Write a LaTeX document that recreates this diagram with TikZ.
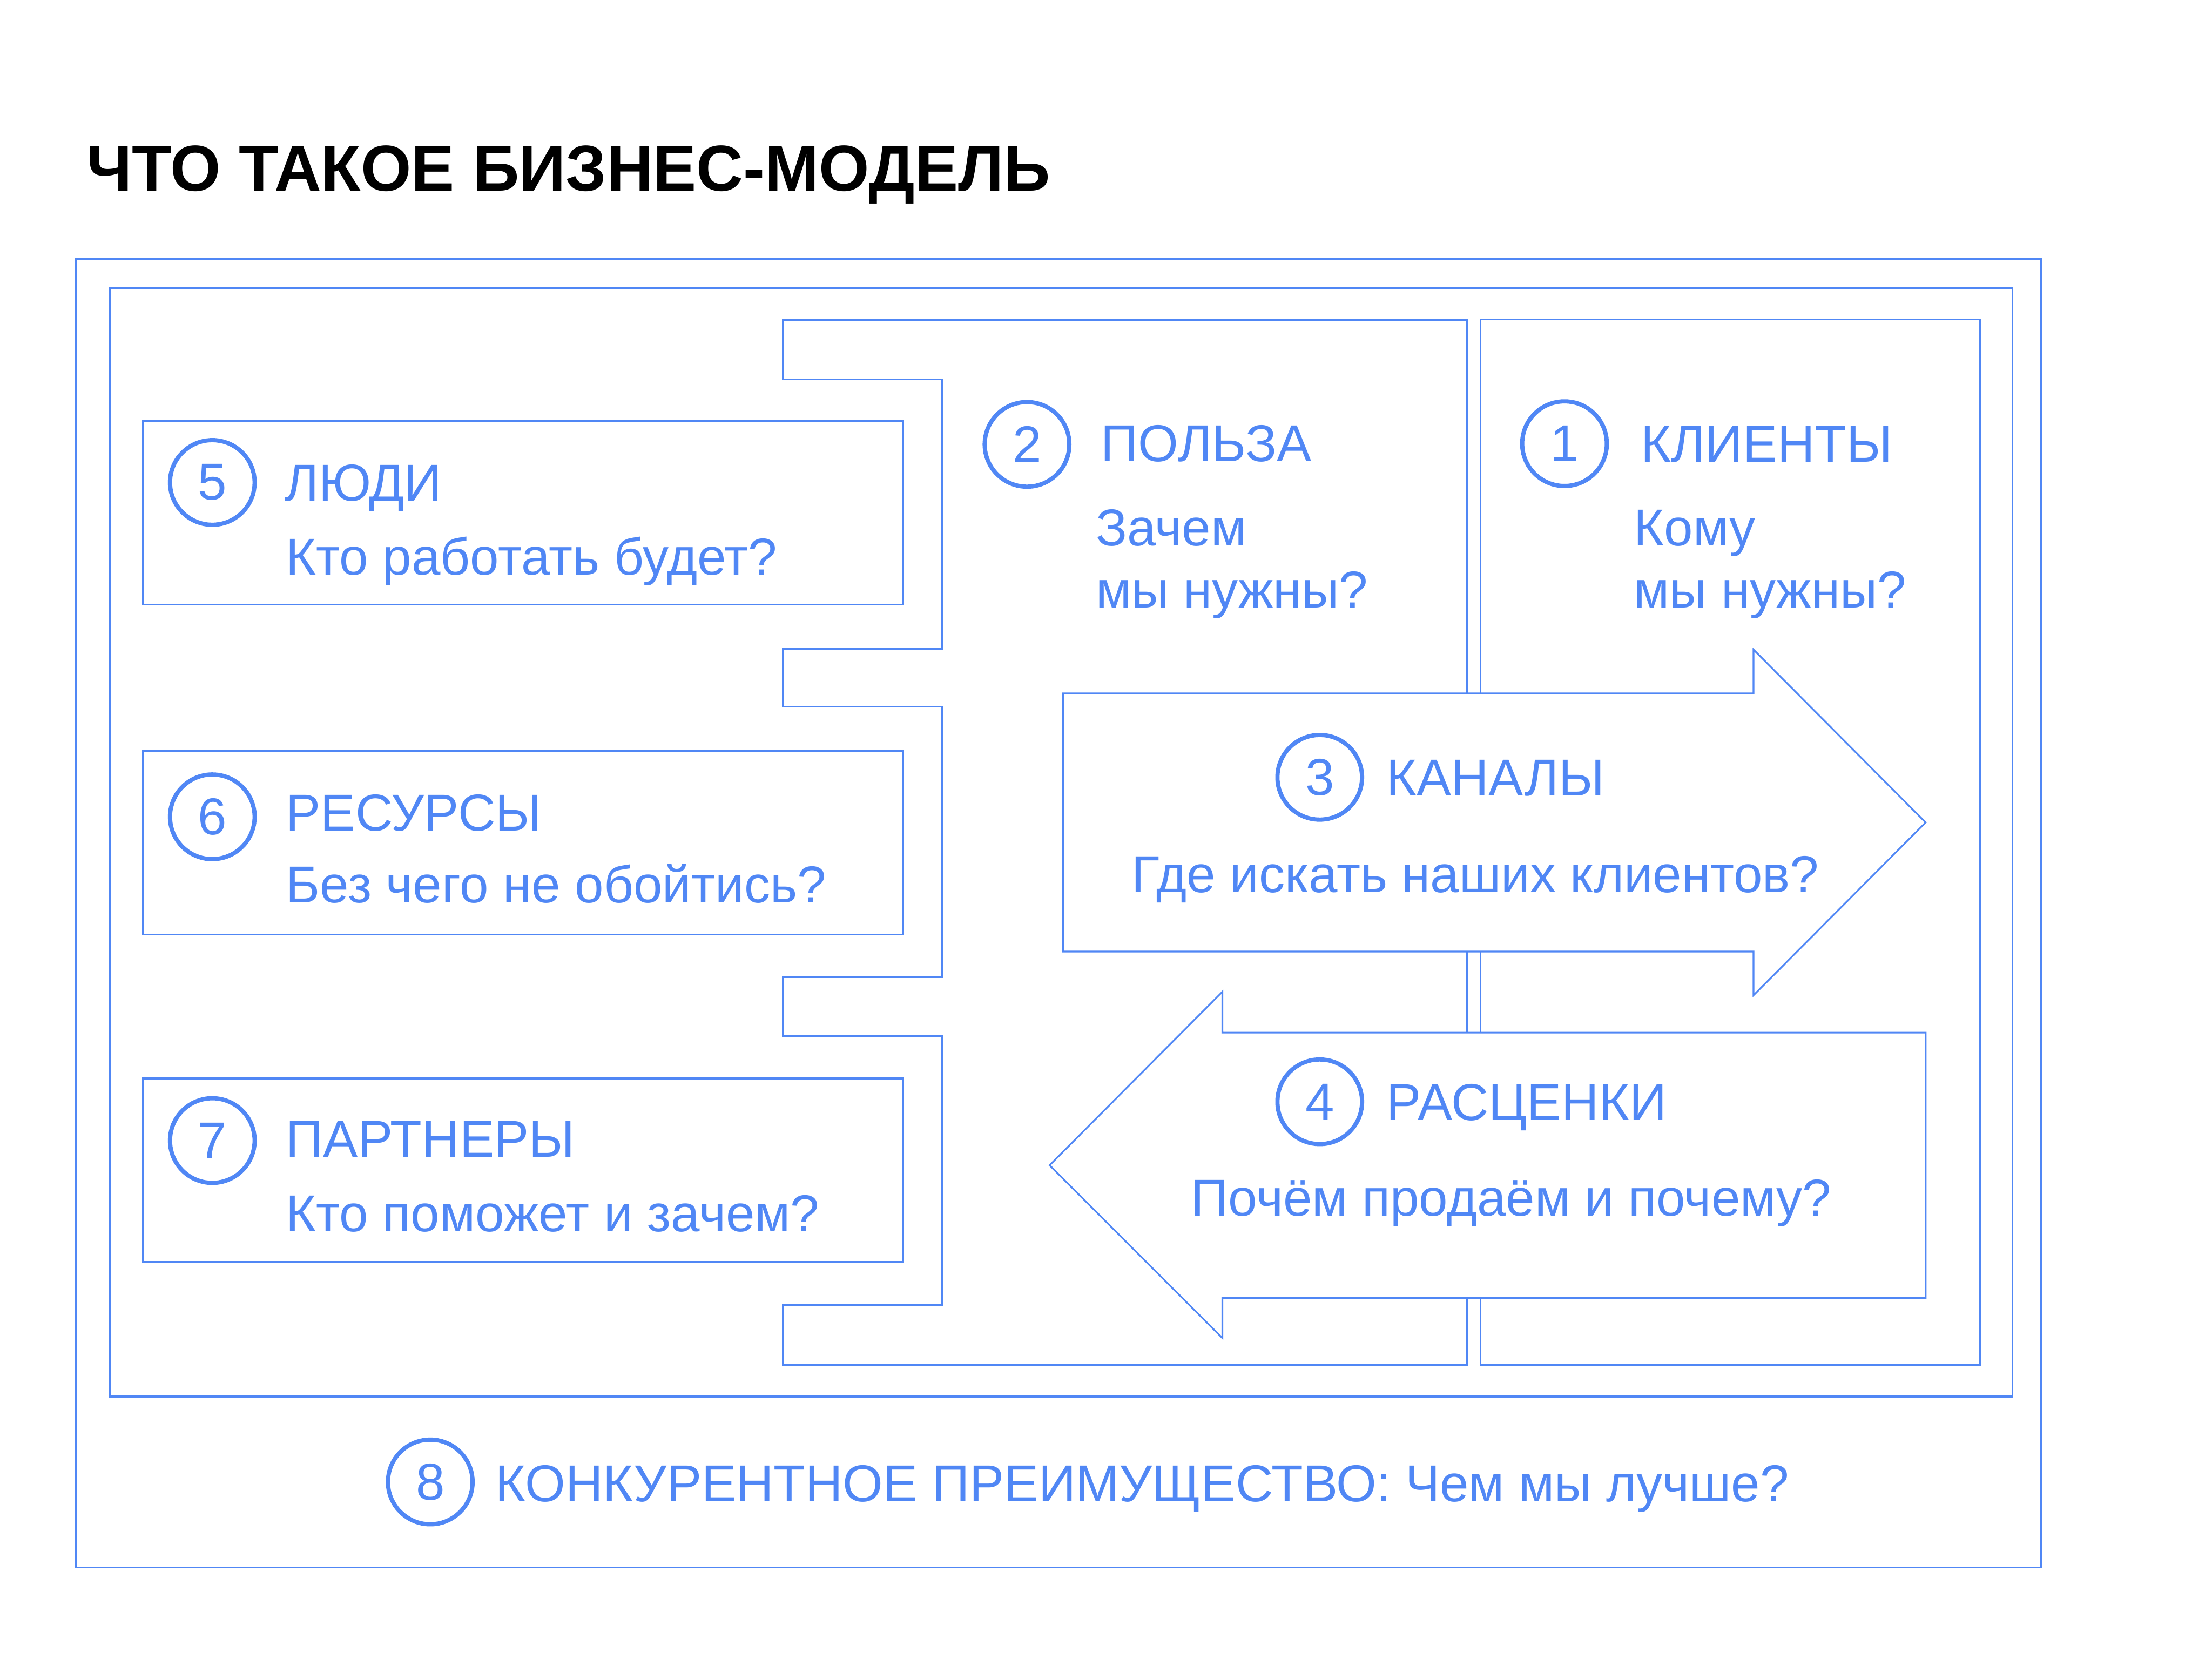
\documentclass[tikz,border=0pt]{standalone}
\usepackage{fontspec}
\setmainfont{Liberation Sans}
\usepackage{tikz}
\usetikzlibrary{positioning}
\definecolor{bmBlue}{HTML}{5087F5}
\tikzset{
  % Frames and blocks of the canvas: thin blue outline, white inside.
  bm/frame/.style={draw=bmBlue, line width=0.65pt, fill=white},
  % Arrow blocks lie over the central blocks, so they are filled.
  bm/arrow/.style={draw=bmBlue, line width=0.6pt, fill=white, line join=miter},
  % Numbered circle in front of every block heading.
  bm/num/.style={circle, draw=bmBlue, line width=1.5pt, minimum size=30pt,
    inner sep=0pt, text=bmBlue, font=\fontsize{18.4}{22}\selectfont},
  % Headings and questions: same size, left edge at the given point.
  bm/txt/.style={anchor=base west, inner sep=0pt, text=bmBlue,
    font=\fontsize{18.4}{22}\selectfont, xshift=-1.3pt},
  bm/title/.style={anchor=base west, inner sep=0pt, text=black,
    font=\fontsize{23}{27}\selectfont\bfseries},
}
\begin{document}
\begin{tikzpicture}[x=0.5pt,y=-0.5pt]
  \useasboundingbox (0,0) rectangle (1568,1176);
  \node[bm/title] (title) at (61,135.5) {ЧТО ТАКОЕ БИЗНЕС-МОДЕЛЬ};
  % frames
  \draw[bm/frame] (54,183.5) rectangle (1447,1111);
  \draw[bm/frame] (78,204.5) rectangle (1426.5,990);
  % value block with the three notches
  \draw[bm/frame] (555,227) -- (1040,227) -- (1040,967.5) -- (555,967.5) -- (555,925)
    -- (668,925) -- (668,734.5) -- (555,734.5) -- (555,692.5) -- (668,692.5)
    -- (668,501) -- (555,501) -- (555,460) -- (668,460) -- (668,269)
    -- (555,269) -- cycle;
  \draw[bm/frame] (1049.5,226.5) rectangle (1403.5,967.5);
  % left blocks
  \draw[bm/frame] (101.5,298.5) rectangle (640,428.5);
  \draw[bm/frame] (101.5,532.5) rectangle (640,662.5);
  \draw[bm/frame] (101.5,764.5) rectangle (640,894.5);
  % channels and prices
  \draw[bm/arrow] (753.5,491.5) -- (1243,491.5) -- (1243,460.5) -- (1365,583)
    -- (1243,705.5) -- (1243,674.5) -- (753.5,674.5) -- cycle;
  \draw[bm/arrow] (1365,732) -- (866.5,732) -- (866.5,703) -- (744,826)
    -- (866.5,948.5) -- (866.5,920) -- (1365,920) -- cycle;

  \node[bm/num] (n1) at (1109,314.5) {1};
  \node[bm/txt] (h1) at (1165.5,327.5) {КЛИЕНТЫ};
  \node[bm/txt] (q1a) at (1160.5,387) {Кому};
  \node[bm/txt] (q1b) at (1160.5,431) {мы нужны?};

  \node[bm/num] (n2) at (728,315) {2};
  \node[bm/txt] (h2) at (782.5,327) {ПОЛЬЗА};
  \node[bm/txt] (q2a) at (779,387) {Зачем};
  \node[bm/txt] (q2b) at (779,431) {мы нужны?};

  \node[bm/num] (n3) at (935.5,551) {3};
  \node[bm/txt] (h3) at (985,564) {КАНАЛЫ};
  \node[bm/txt] (q3) at (804.5,632.5) {Где искать наших клиентов?};

  \node[bm/num] (n4) at (935.5,781) {4};
  \node[bm/txt] (h4) at (985,794) {РАСЦЕНКИ};
  \node[bm/txt] (q4) at (846.5,862) {Почём продаём и почему?};

  \node[bm/num] (n5) at (150.5,342) {5};
  \node[bm/txt] (h5) at (204,355) {ЛЮДИ};
  \node[bm/txt] (q5) at (205,407.5) {Кто работать будет?};

  \node[bm/num] (n6) at (150.5,579) {6};
  \node[bm/txt] (h6) at (205,589) {РЕСУРСЫ};
  \node[bm/txt] (q6) at (205,640) {Без чего не обойтись?};

  \node[bm/num] (n7) at (150.5,808.5) {7};
  \node[bm/txt] (h7) at (205,820) {ПАРТНЕРЫ};
  \node[bm/txt] (q7) at (205,873) {Кто поможет и зачем?};

  \node[bm/num] (n8) at (305,1050.5) {8};
  \node[bm/txt] (h8) at (353.5,1064.5) {КОНКУРЕНТНОЕ ПРЕИМУЩЕСТВО: Чем мы лучше?};
\end{tikzpicture}
\end{document}
